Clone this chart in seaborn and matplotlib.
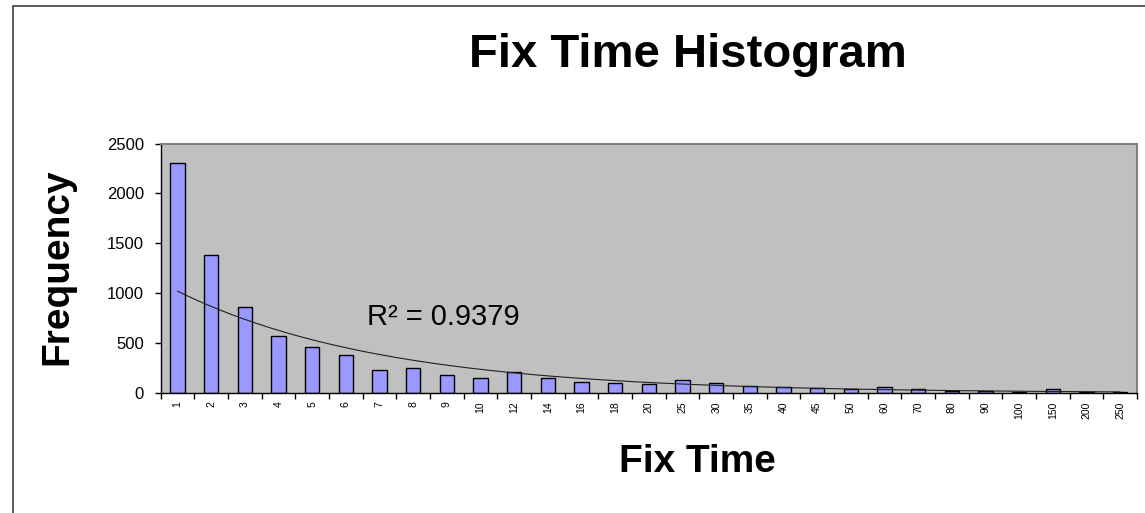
import numpy as np
import pandas as pd
import matplotlib
matplotlib.use("Agg")
import matplotlib.pyplot as plt
import seaborn as sns
from matplotlib.patches import Rectangle

# ---- data ----
fix_time = ["1", "2", "3", "4", "5", "6", "7", "8", "9", "10",
            "12", "14", "16", "18", "20", "25", "30", "35", "40", "45",
            "50", "60", "70", "80", "90", "100", "150", "200", "250"]
frequency = [2300, 1387, 863, 573, 460, 380, 227, 247, 180, 147,
             210, 150, 113, 100, 90, 130, 100, 73, 63, 50,
             43, 60, 40, 20, 20, 10, 40, 10, 7]
y_ticks = [0, 500, 1000, 1500, 2000, 2500]
r2_label = "R² = 0.9379"

df = pd.DataFrame({"Fix Time": fix_time, "Frequency": frequency})

sns.set_theme(style="white")
plt.rcParams['font.family'] = ['Liberation Sans', 'DejaVu Sans']
for k in ["text.color", "axes.labelcolor", "xtick.color", "ytick.color"]:
    plt.rcParams[k] = "black"

W, H = 1145, 513
fig = plt.figure(figsize=(W / 100, H / 100), dpi=100)
ax = fig.add_axes([160.7 / W, 1 - 393 / H, (1137 - 160.7) / W, (393 - 143.5) / H])
ax.set_facecolor("#C0C0C0")

sns.barplot(data=df, x="Fix Time", y="Frequency", order=fix_time,
            color="#9999FF", edgecolor="black", linewidth=1.0,
            width=0.42, saturation=1, ax=ax)

# exponential trend line (fit on category index, Excel style)
idx = np.arange(1, len(frequency) + 1)
b, a = np.polyfit(idx, np.log(frequency), 1)
xs = np.linspace(1, len(frequency), 300)
ax.plot(xs - 1, np.exp(a + b * xs), color="#202020", linewidth=0.8)

ax.text((367 - 160.7) / 976.3, (393 - 325) / 249.5, r2_label,
        transform=ax.transAxes, fontsize=21, va="baseline", ha="left",
        color="black")

ax.set_xlim(-0.5, len(fix_time) - 0.5)
ax.set_ylim(0, 2500)
ax.set_yticks(y_ticks)
ax.set_yticklabels([str(v) for v in y_ticks], fontsize=12)
ax.tick_params(axis="y", direction="out", length=4, width=1, color="black",
               pad=8, left=True)

ax.set_xticks(np.arange(len(fix_time)))
ax.set_xticklabels(fix_time, rotation=90, fontsize=7.5)
ax.set_xticks(np.arange(len(fix_time) + 1) - 0.5, minor=True)
ax.tick_params(axis="x", which="major", length=0, pad=6)
ax.tick_params(axis="x", which="minor", direction="out", length=4, width=1,
               color="black", bottom=True)

ax.set_xlabel("")
ax.set_ylabel("")
for s in ["left", "bottom"]:
    ax.spines[s].set_color("black")
    ax.spines[s].set_linewidth(1.0)
for s in ["top", "right"]:
    ax.spines[s].set_color("#808080")
    ax.spines[s].set_linewidth(1.5)

fig.text(687.5 / W, 1 - 66.7 / H, "Fix Time Histogram", fontsize=34,
         fontweight="bold", ha="center", va="baseline", color="black")
fig.text(697 / W, 1 - 471.7 / H, "Fix Time", fontsize=28,
         fontweight="bold", ha="center", va="baseline", color="black")
fig.text(57.5 / W, 1 - 266.5 / H, "Frequency", fontsize=28,
         fontweight="bold", ha="center", va="center", rotation=90,
         color="black")

fig.patches.append(Rectangle((13 / W, -0.1), 1.2, 1 - 6 / H + 0.1,
                             transform=fig.transFigure, fill=False,
                             edgecolor="#404040", linewidth=1.2))

fig.savefig("out.png", dpi=100)
